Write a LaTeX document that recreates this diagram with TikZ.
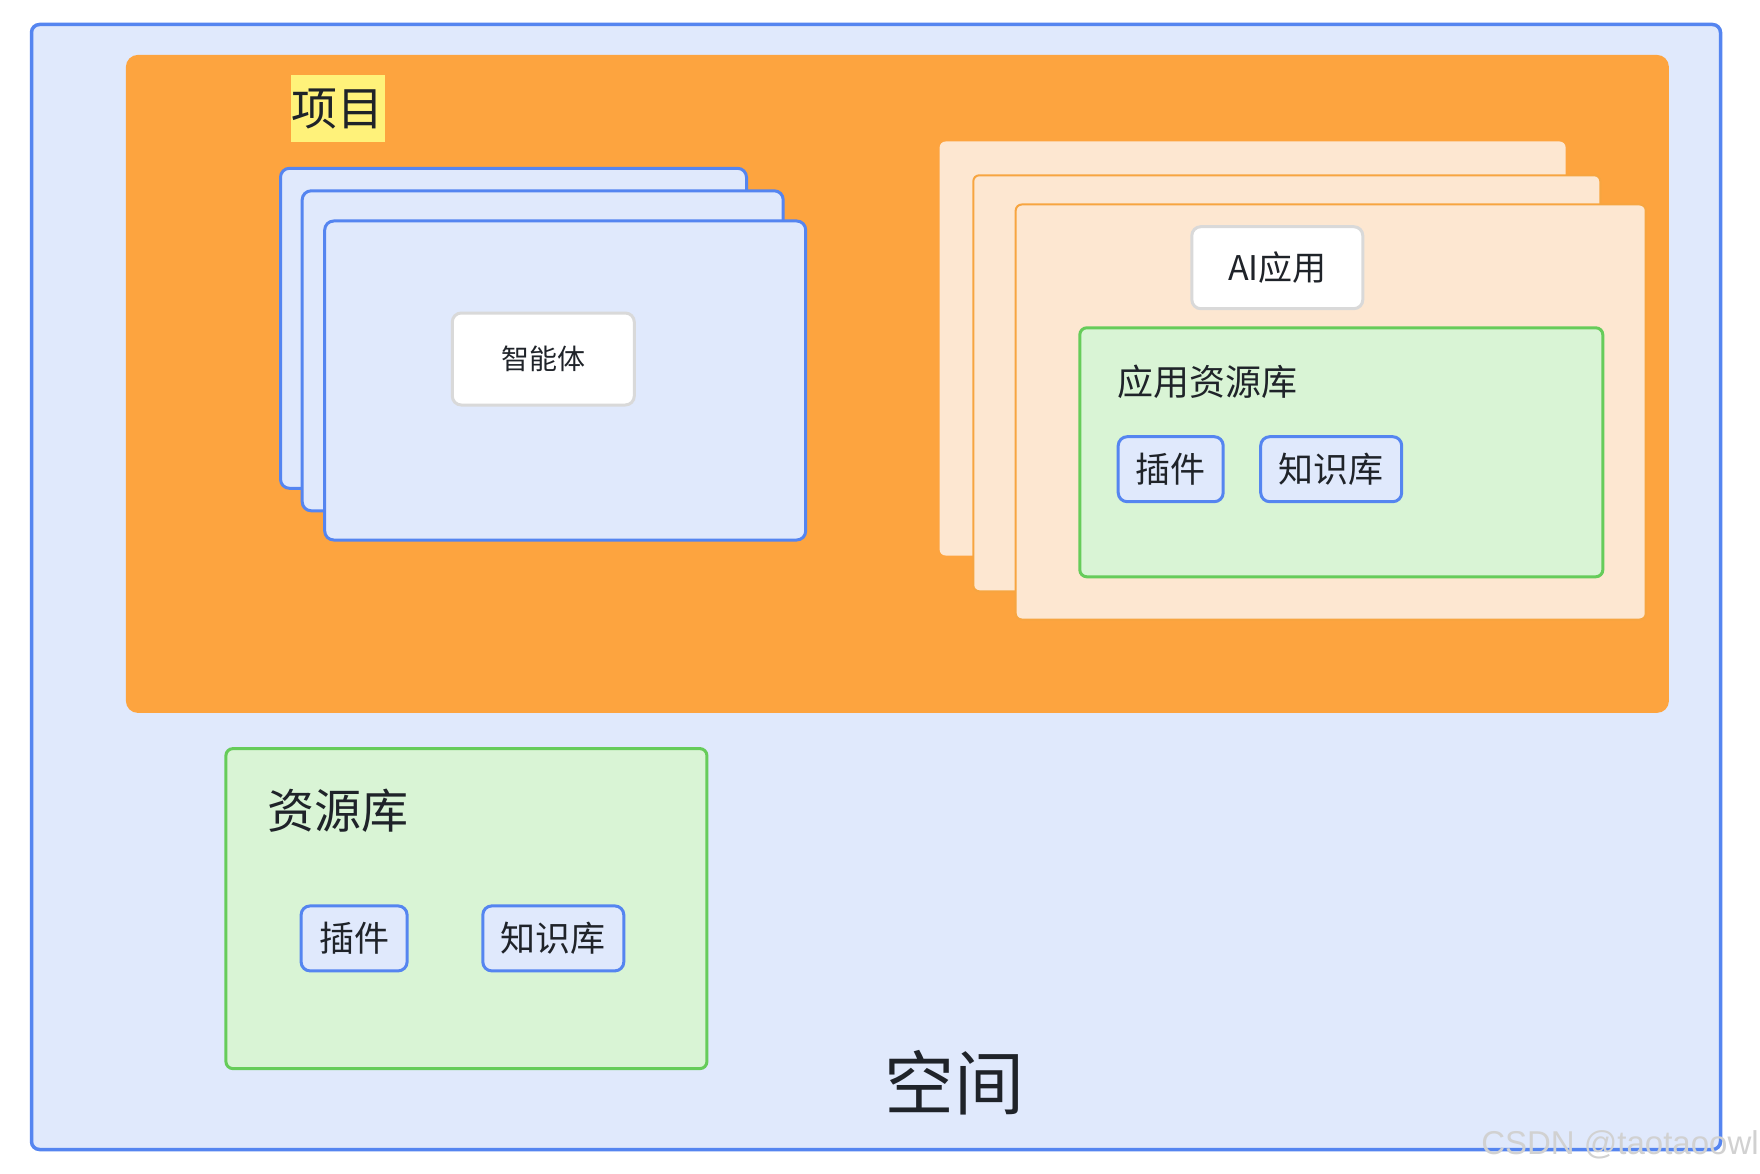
\documentclass[tikz,border=0pt]{standalone}
\usepackage{fontspec}
\setmainfont{Noto Sans CJK SC}
\definecolor{spacefill}{HTML}{E0E9FC}
\definecolor{blueline}{HTML}{5585F0}
\definecolor{orangefill}{HTML}{FDA43F}
\definecolor{peach}{HTML}{FDE7D1}
\definecolor{peachline}{HTML}{F7A540}
\definecolor{greenfill}{HTML}{D9F4D5}
\definecolor{greenline}{HTML}{66CC5A}
\definecolor{greyline}{HTML}{D9D9D9}
\definecolor{hilite}{HTML}{FFF27A}
\definecolor{ink}{HTML}{1F2329}
\tikzset{
  fs/.style={font=\fontsize{#1}{#1}\selectfont},
  box/.style={inner sep=0pt, rounded corners=#1},
  space/.style={box=8pt, fill=spacefill, draw=blueline, line width=3.5pt},
  project/.style={box=12pt, fill=orangefill},
  agentcard/.style={box=9pt, fill=spacefill, draw=blueline, line width=3pt},
  appcard/.style={box=6pt, fill=peach},
  appcardb/.style={box=6pt, fill=peach, draw=peachline, line width=2pt},
  whitebox/.style={box=9pt, fill=white, draw=greyline, line width=3pt, text=ink},
  lib/.style={box=7pt, fill=greenfill, draw=greenline, line width=3pt},
  item/.style={box=9pt, fill=spacefill, draw=blueline, line width=3pt, text=ink, fs=35},
  label/.style={inner sep=0pt, text=ink},
}
\begin{document}
\begin{tikzpicture}[x=1pt, y=-1pt]
\useasboundingbox[fill=white] (0,0) rectangle (1760,1174);
% space
\node[space, minimum width=1689pt, minimum height=1125pt] (space) at (876,587) {};
% project
\node[project, minimum width=1543pt, minimum height=658pt] (project) at (897.4,383.9) {};
\node[inner sep=0pt, fill=hilite, minimum width=94pt, minimum height=67pt, text=ink, fs=46] (projtitle) at (337.9,108.9) {项目};
% agent cards
\node[agentcard, minimum width=466pt, minimum height=320pt] (ag1) at (513.5,328.3) {};
\node[agentcard, minimum width=481pt, minimum height=320pt] (ag2) at (542.7,350.8) {};
\node[agentcard, minimum width=481pt, minimum height=319pt] (ag3) at (565.2,380.5) {};
\node[whitebox, minimum width=182pt, minimum height=92pt, fs=28] (agent) at (543.3,359) {智能体};
% app cards
\node[appcard, minimum width=626pt, minimum height=414pt] (app1) at (1252.6,348.5) {};
\node[appcardb, minimum width=627pt, minimum height=416pt] (app2) at (1286.8,383.3) {};
\node[appcardb, minimum width=630pt, minimum height=415pt] (app3) at (1330.7,412) {};
\node[whitebox, minimum width=171pt, minimum height=82pt, fs=34] (ai) at (1277.3,267.7) {AI应用};
\node[lib, minimum width=523pt, minimum height=249pt] (applib) at (1341.3,452.3) {};
\node[label, anchor=west, fs=36] (applibtitle) at (1116.8,382) {应用资源库};
\node[item, minimum width=105pt, minimum height=65pt] (plugA) at (1170.7,469.2) {插件};
\node[item, minimum width=141pt, minimum height=65pt] (kbA) at (1331.2,469.2) {知识库};
% space resources
\node[lib, minimum width=481pt, minimum height=320pt] (lib) at (466.4,908.6) {};
\node[label, anchor=west, fs=47] (libtitle) at (267,811) {资源库};
\node[item, minimum width=106pt, minimum height=65pt] (plugB) at (354.1,938.4) {插件};
\node[item, minimum width=141pt, minimum height=65pt] (kbB) at (553.3,938.4) {知识库};
% space title
\node[label, fs=70] (spacetitle) at (954,1083) {空间};
% watermark
\node[inner sep=0pt, text=black!18, font=\fontsize{33}{33}\selectfont\fontspec{Liberation Sans}] (wm) at (1620,1145) {CSDN @taotaoowl};
\end{tikzpicture}
\end{document}
